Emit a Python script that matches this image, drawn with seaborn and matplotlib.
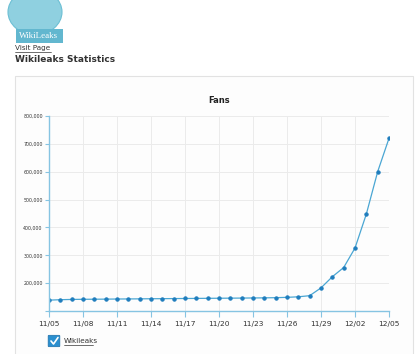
import numpy as np
import pandas as pd
import seaborn as sns
import matplotlib.pyplot as plt
import matplotlib.dates as mdates
from matplotlib.patches import Rectangle, Circle, FancyBboxPatch
from matplotlib.ticker import FuncFormatter

# daily fan counts, 11/05 .. 12/05
days = pd.date_range('2010-11-05', '2010-12-05', freq='D')
fans = [139000, 140500, 141500, 142000, 142300, 142600, 143000, 143300, 143600, 144000,
        144300, 144600, 144900, 145200, 145500, 145800, 146100, 146400, 146800, 147200,
        147800, 149000, 151000, 155000, 183000, 223000, 256000, 326000, 448000, 600000,
        720000]
x_ticks = pd.date_range('2010-11-05', '2010-12-05', freq='3D')
y_ticks = [100000, 200000, 300000, 400000, 500000, 600000, 700000, 800000]

df = pd.DataFrame({'date': days, 'fans': fans})

sns.set_style('white')
plt.rcParams['font.family'] = ['DejaVu Sans']

W, H = 420, 354
fig = plt.figure(figsize=(W / 100, H / 100), dpi=100)
fig.patch.set_facecolor('white')

# page header: logo, link, heading
fig.patches.append(Circle((35 / W, 1 - 12 / H), 27 / W, transform=fig.transFigure,
                          facecolor='#8fd0e0', edgecolor='#6cbfd4', lw=0.8))
fig.patches.append(Rectangle((16 / W, 1 - 43 / H), 47 / W, 14 / H, transform=fig.transFigure,
                             facecolor='#62b7cf', edgecolor='none'))
fig.text(39 / W, 1 - 36 / H, 'WikiLeaks', ha='center', va='center', color='white',
         fontsize=6.5, family='Liberation Serif')
fig.text(15 / W, 1 - 48 / H, 'Visit Page', fontsize=5.2, color='#333333', va='center')
fig.add_artist(plt.Line2D([15 / W, 51 / W], [1 - 51.5 / H, 1 - 51.5 / H], color='#333333', lw=0.5))
fig.text(15 / W, 1 - 59 / H, 'Wikileaks Statistics', fontsize=6.5, weight='bold',
         color='#333333', va='center')

# chart panel (behind the axes)
fig.patches.append(Rectangle((15 / W, -0.02), 398 / W, 1 - 76 / H + 0.02,
                             transform=fig.transFigure, facecolor='#fdfdfd',
                             edgecolor='#e2e2e2', lw=0.8, zorder=-5))

ax = fig.add_axes([49 / W, 1 - 311 / H, 340 / W, 195 / H])
ax.set_facecolor('none')
ax.set_zorder(2)
sns.lineplot(data=df, x='date', y='fans', ax=ax, color='#4aa6d3', lw=0.9,
             marker='o', markersize=2.4, markerfacecolor='#1f7dbd', markeredgecolor='#1f7dbd')

ax.set_xlim(days[0], days[-1])
ax.set_ylim(100000, 800000)
ax.set_xticks(x_ticks)
ax.xaxis.set_major_formatter(mdates.DateFormatter('%m/%d'))
ax.set_yticks(y_ticks)
ax.yaxis.set_major_formatter(FuncFormatter(lambda v, p: '' if v <= 100000 else f'{int(v):,}'))
ax.grid(True, color='#ebebeb', lw=0.7)
for s in ['top', 'right']:
    ax.spines[s].set_visible(False)
for s in ['left', 'bottom']:
    ax.spines[s].set_color('#86c4e2')
    ax.spines[s].set_linewidth(1.0)
ax.tick_params(axis='x', length=4, width=0.8, color='#86c4e2', labelsize=5.4,
               labelcolor='#333333', pad=3, bottom=True)
ax.tick_params(axis='y', length=3, width=0.8, color='#86c4e2', labelsize=3.4,
               labelcolor='#333333', pad=1.5, left=True)
ax.set_xlabel('')
ax.set_ylabel('')
fig.text(219 / W, 1 - 100 / H, 'Fans', ha='center', va='center', fontsize=6, weight='bold',
         color='#222222')

# legend checkbox
fig.patches.append(FancyBboxPatch((49 / W, 1 - 346 / H), 10 / W, 10 / H,
                                  boxstyle='round,pad=0.002', transform=fig.transFigure,
                                  facecolor='#2a8fcf', edgecolor='#1f6fa8', lw=0.5))
fig.add_artist(plt.Line2D([51 / W, 53.5 / W, 58 / W], [1 - 341 / H, 1 - 344 / H, 1 - 337.5 / H],
                          color='white', lw=1.2))
fig.text(64 / W, 1 - 341 / H, 'Wikileaks', fontsize=5.2, color='#333333', va='center')
fig.add_artist(plt.Line2D([64 / W, 93 / W], [1 - 344.5 / H, 1 - 344.5 / H], color='#333333', lw=0.5))

fig.savefig('out.png', dpi=100)
